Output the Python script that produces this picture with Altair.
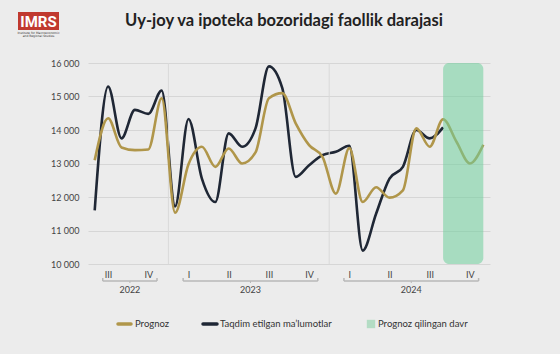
import altair as alt
import pandas as pd

# ---- data ----
prognoz = [13100, 14350, 13480, 13400, 13420, 14950, 11530, 12980, 13500, 12900,
           13450, 13000, 13330, 14950, 15100, 14200, 13550, 13200, 12100, 13460,
           11850, 12290, 11980, 12200, 14050, 13500, 14320, 13650, 13000, 13560]
taqdim = [11600, 15300, 13750, 14600, 14480, 15180, 11720, 14330, 12550, 11850,
          13900, 13500, 14050, 15900, 15250, 12600, 12950, 13250, 13350, 13530,
          10400, 11500, 12550, 12900, 14000, 13750, 14080]
years = ["2022", "2023", "2024"]
quarter_names = ["I", "II", "III", "IV"]
y_ticks = [10000, 11000, 12000, 13000, 14000, 15000, 16000]
legend_labels = ["Prognoz", "Taqdim etilgan ma\u2019lumotlar", "Prognoz qilingan davr"]
title_text = "Uy-joy va ipoteka bozoridagi faollik darajasi"

# months since Jul 2022, points at mid-month
t_prog = [k + 0.5 for k in range(len(prognoz))]
t_act = [k + 0.5 for k in range(len(taqdim))]

df_prog = pd.DataFrame({"t": t_prog, "v": prognoz})
df_act = pd.DataFrame({"t": t_act, "v": taqdim})

OLIVE = "#b0964a"
NAVY = "#1f2735"
GREEN = "#6fcf9c"
FONT = "Lato"

W, H = 402, 201
xs = alt.Scale(domain=[0, 30], nice=False, zero=False)
ys = alt.Scale(domain=[10000, 16000], nice=False, zero=False)

q_centers = [1.5 + 3 * i for i in range(10)]

XAXIS = alt.Axis(
    values=q_centers, grid=False, domain=False, ticks=False, title=None, labelOverlap=False,
    labelExpr="['I','II','III','IV'][((datum.value - 1.5) / 3 + 2) % 4]",
    labelFont=FONT, labelFontSize=9, labelColor="#444", labelPadding=6)
YAXIS = alt.Axis(
    values=y_ticks, grid=True, gridColor="#d6d6d6", gridWidth=1, domain=False, ticks=False,
    title=None, labelOverlap=False, labelExpr="replace(format(datum.value, ','), ',', ' ')",
    labelFont=FONT, labelFontSize=9, labelColor="#444", labelPadding=9)


def bx(f):
    return alt.X(f, scale=xs, axis=XAXIS, title=None)


def by(f):
    return alt.Y(f, scale=ys, axis=YAXIS, title=None)


lines_actual = alt.Chart(df_act).mark_line(
    strokeWidth=2.6, interpolate="monotone", color=NAVY).encode(x=bx("t:Q"), y=by("v:Q"))
lines_prog = alt.Chart(df_prog).mark_line(
    strokeWidth=2.6, interpolate="monotone", color=OLIVE).encode(x=bx("t:Q"), y=by("v:Q"))

# year boundary lines
ydf = pd.DataFrame({"t": [6.0, 18.0]})
year_rules = alt.Chart(ydf).mark_rule(color="#d9d9d9", strokeWidth=1).encode(
    x=bx("t:Q"), y=alt.value(0), y2=alt.value(H))

# forecast band
fdf = pd.DataFrame({"a": [t_act[-1]], "b": [t_prog[-1]]})
band = alt.Chart(fdf).mark_rect(color=GREEN, opacity=0.55, cornerRadius=6).encode(
    x=bx("a:Q"), x2="b:Q", y=alt.value(0), y2=alt.value(H))

# year brackets
first_q = [2, 0, 0]
last_q = [3, 3, 3]
bstart, bend, bmid = [], [], []
for i, y in enumerate(years):
    s = -6 + 12 * i + 3 * first_q[i] + 1.5 - 0.4
    e = -6 + 12 * i + 3 * last_q[i] + 1.5 + 0.65
    bstart.append(s); bend.append(e); bmid.append((s + e) / 2)
bdf = pd.DataFrame({"year": years, "s": bstart, "e": bend, "m": bmid})
BY = 281 - 63
br_line = alt.Chart(bdf).mark_rule(color="#b8b8b8", strokeWidth=1.5).encode(
    x=bx("s:Q"), x2="e:Q", y=alt.value(BY))
br_l = alt.Chart(bdf).mark_rule(color="#b8b8b8", strokeWidth=1.5).encode(
    x=bx("s:Q"), y=alt.value(BY - 3), y2=alt.value(BY))
br_r = alt.Chart(bdf).mark_rule(color="#b8b8b8", strokeWidth=1.5).encode(
    x=bx("e:Q"), y=alt.value(BY - 3), y2=alt.value(BY))
br_m = alt.Chart(bdf).mark_rule(color="#b8b8b8", strokeWidth=1).encode(
    x=bx("m:Q"), y=alt.value(BY), y2=alt.value(BY + 2))
br_text = alt.Chart(bdf).mark_text(font=FONT, fontSize=9, color="#444", baseline="middle").encode(
    x=bx("m:Q"), y=alt.value(290 - 63), text="year:N")

# title
tdf = pd.DataFrame({"txt": [title_text]})
title = alt.Chart(tdf).mark_text(font=FONT, fontSize=16.5, fontWeight="bold", color="#222",
                                 baseline="middle", align="center").encode(
    x=alt.value(284 - 88), y=alt.value(21 - 63), text="txt:N")

# logo
ldf = pd.DataFrame({"txt": ["IMRS"]})
logo_bg = alt.Chart(ldf).mark_rect(color="#c0392f").encode(
    x=alt.value(18 - 88), x2=alt.value(59 - 88), y=alt.value(12 - 63), y2=alt.value(30 - 63))
logo_txt = alt.Chart(ldf).mark_text(font="Roboto", fontSize=15, fontWeight="bold",
                                    color="white", baseline="middle", align="center").encode(
    x=alt.value(38.5 - 88), y=alt.value(21.5 - 63), text="txt:N")
logo_sub1 = alt.Chart(pd.DataFrame({"txt": ["Institute for Macroeconomic"]})).mark_text(
    font="DejaVu Sans", fontSize=3, color="#333", baseline="middle", align="center").encode(
    x=alt.value(38.5 - 88), y=alt.value(32.5 - 63), text="txt:N")
logo_sub2 = alt.Chart(pd.DataFrame({"txt": ["and Regional Studies"]})).mark_text(
    font="DejaVu Sans", fontSize=3, color="#333", baseline="middle", align="center").encode(
    x=alt.value(38.5 - 88), y=alt.value(36 - 63), text="txt:N")

# legend
LY = 324 - 63
lg = pd.DataFrame({"txt": legend_labels})
leg1 = alt.Chart(lg.iloc[[0]]).mark_rule(color=OLIVE, strokeWidth=3.5, strokeCap="round").encode(
    x=alt.value(118 - 88), x2=alt.value(131 - 88), y=alt.value(LY))
leg2 = alt.Chart(lg.iloc[[1]]).mark_rule(color=NAVY, strokeWidth=3.5, strokeCap="round").encode(
    x=alt.value(203 - 88), x2=alt.value(217 - 88), y=alt.value(LY))
leg3 = alt.Chart(lg.iloc[[2]]).mark_square(color="#b3dcc4", opacity=1, size=70).encode(
    x=alt.value(371 - 88), y=alt.value(LY))
legt1 = alt.Chart(lg.iloc[[0]]).mark_text(font=FONT, fontSize=9.5, color="#333", align="left", baseline="middle").encode(
    x=alt.value(135 - 88), y=alt.value(LY), text="txt:N")
legt2 = alt.Chart(lg.iloc[[1]]).mark_text(font=FONT, fontSize=9.5, color="#333", align="left", baseline="middle").encode(
    x=alt.value(220 - 88), y=alt.value(LY), text="txt:N")
legt3 = alt.Chart(lg.iloc[[2]]).mark_text(font=FONT, fontSize=9.5, color="#333", align="left", baseline="middle").encode(
    x=alt.value(378 - 88), y=alt.value(LY), text="txt:N")

chart = alt.layer(
    lines_actual, year_rules, lines_prog, band,
    br_line, br_l, br_r, br_m, br_text,
    title, logo_bg, logo_txt, logo_sub1, logo_sub2,
    leg1, leg2, leg3, legt1, legt2, legt3,
).properties(
    width=W, height=H,
    autosize=alt.AutoSizeParams(type="none"),
    padding={"left": 88, "top": 63, "right": 560 - 88 - W, "bottom": 354 - 63 - H},
    background="#ececec",
).configure_view(stroke=None)

chart.save("out.html", embed_options={"renderer": "svg", "actions": False})
